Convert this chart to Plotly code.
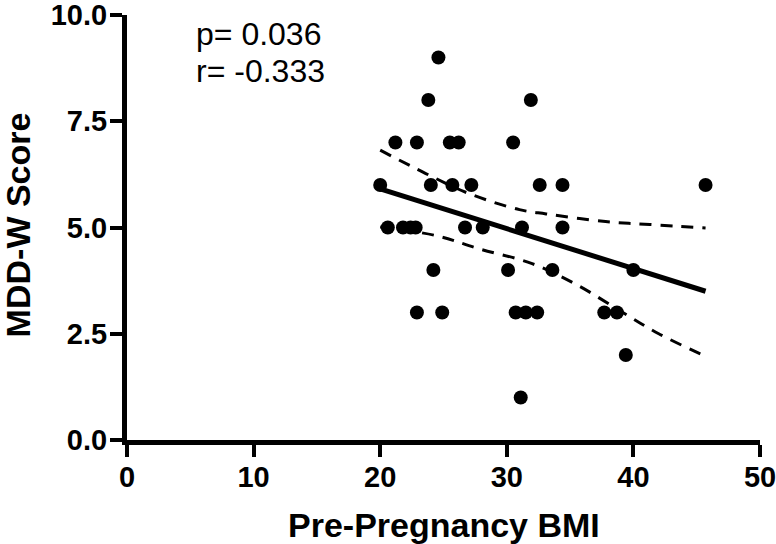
import plotly.graph_objects as go

# points (BMI, MDD-W score)
bmi = [24.6,
       23.8, 31.9,
       21.2, 22.9, 25.5, 26.2, 30.5,
       20.0, 24.0, 25.7, 27.2, 32.6, 34.4, 45.7,
       20.6, 21.8, 22.4, 22.8, 26.7, 28.1, 31.2, 34.4,
       24.2, 30.1, 33.6, 40.0,
       22.9, 24.9, 30.7, 31.5, 32.4, 37.7, 38.7,
       39.4,
       31.1]
score = [9,
         8, 8,
         7, 7, 7, 7, 7,
         6, 6, 6, 6, 6, 6, 6,
         5, 5, 5, 5, 5, 5, 5, 5,
         4, 4, 4, 4,
         3, 3, 3, 3, 3, 3, 3,
         2,
         1]

# regression line and 95% band
fit_x = [20.0, 45.7]
fit_y = [5.91, 3.50]
upper_x = [20.0, 23.6, 27.0, 31.0, 33.1, 37.8, 41.3, 45.7]
upper_y = [6.82, 6.27, 5.80, 5.42, 5.32, 5.14, 5.07, 4.99]
lower_x = [20.0, 24.4, 27.8, 32.0, 35.6, 39.1, 42.0, 45.7]
lower_y = [5.01, 4.81, 4.50, 4.15, 3.64, 3.01, 2.50, 1.97]

FONT = "Liberation Sans, Arial, sans-serif"

fig = go.Figure()
fig.add_trace(go.Scatter(x=upper_x, y=upper_y, mode="lines", line_shape="spline",
                         line=dict(color="black", width=3, dash="12px,9px")))
fig.add_trace(go.Scatter(x=lower_x, y=lower_y, mode="lines", line_shape="spline",
                         line=dict(color="black", width=3, dash="12px,9px")))
fig.add_trace(go.Scatter(x=fit_x, y=fit_y, mode="lines",
                         line=dict(color="black", width=5)))
fig.add_trace(go.Scatter(x=bmi, y=score, mode="markers",
                         marker=dict(color="black", size=14)))

axis_common = dict(
    showline=True, linecolor="black", linewidth=5,
    ticks="outside", ticklen=12, tickwidth=4, tickcolor="black",
    showgrid=False, zeroline=False, automargin=False,
    ticklabeloverflow="allow",
    tickfont=dict(family=FONT, size=29, color="black", weight="bold"),
)

fig.update_xaxes(range=[0, 50], tickvals=[0, 10, 20, 30, 40, 50],
                 ticklabelstandoff=-5, **axis_common)
fig.update_yaxes(range=[0, 10], tickvals=[0, 2.5, 5, 7.5, 10],
                 ticktext=["0.0", "2.5", "5.0", "7.5", "10.0"],
                 ticklabelstandoff=-3, **axis_common)

# axis titles
fig.add_annotation(x=0.5, y=0, xref="paper", yref="paper", yshift=-85,
                   text="<b>Pre-Pregnancy BMI</b>", showarrow=False,
                   xanchor="center", yanchor="middle",
                   font=dict(family=FONT, size=34, color="black"))
fig.add_annotation(x=0, y=0.505, xref="paper", yref="paper", xshift=-109,
                   text="<b>MDD-W Score</b>", showarrow=False, textangle=-90,
                   xanchor="center", yanchor="middle",
                   font=dict(family=FONT, size=34, color="black"))

fig.add_annotation(x=5.3, y=9.55, xref="x", yref="y", text="p= 0.036",
                   showarrow=False, xanchor="left", yanchor="middle",
                   font=dict(family=FONT, size=32, color="black"))
fig.add_annotation(x=5.3, y=8.68, xref="x", yref="y", text="r= -0.333",
                   showarrow=False, xanchor="left", yanchor="middle",
                   font=dict(family=FONT, size=32, color="black"))

fig.update_layout(
    width=776, height=544,
    margin=dict(l=127, r=16, t=15, b=104),
    plot_bgcolor="white", paper_bgcolor="white",
    showlegend=False,
)

# drop the page's default body margin so the figure sits at the window corner
fig.write_html("out.html", config={"displayModeBar": False},
               post_script="document.body.style.margin='0';")
